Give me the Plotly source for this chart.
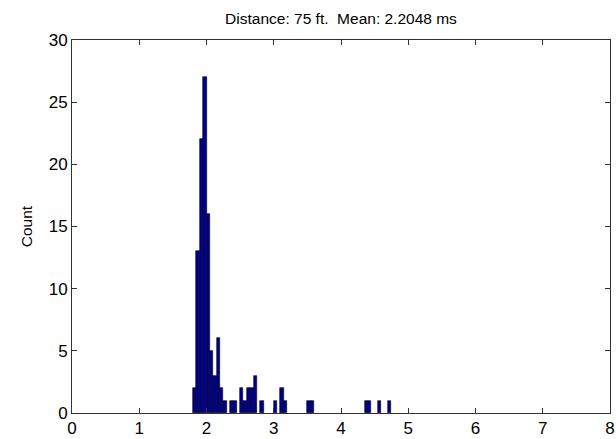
import plotly.graph_objects as go

# Histogram bins (left edges, width 0.05 ms) and counts
bin_width = 0.05
bin_left = [1.80, 1.85, 1.90, 1.95, 2.00, 2.05, 2.10, 2.15, 2.20, 2.25,
            2.35, 2.40, 2.50, 2.55, 2.60, 2.65, 2.70, 2.80, 3.00, 3.10,
            3.15, 3.50, 3.55, 4.35, 4.40, 4.55, 4.70]
counts = [2, 13, 22, 27, 16, 5, 3, 6, 2, 1,
          1, 1, 2, 1, 2, 2, 3, 1, 1, 2,
          1, 1, 1, 1, 1, 1, 1]

x_ticks = [0, 1, 2, 3, 4, 5, 6, 7, 8]
y_ticks = [0, 5, 10, 15, 20, 25, 30]

centers = [b + bin_width / 2 for b in bin_left]

fig = go.Figure()
fig.add_trace(go.Bar(
    x=centers, y=counts, width=bin_width,
    marker=dict(color="#000090", line=dict(color="black", width=0.6)),
))

font = "Liberation Sans, Arial, Helvetica, sans-serif"
fig.update_layout(
    width=616, height=439,
    margin=dict(l=72, r=1, t=40, b=26),
    paper_bgcolor="white", plot_bgcolor="white",
    showlegend=False, bargap=0,
    title=dict(text="Distance: 75 ft.  Mean: 2.2048 ms", x=0.5, xanchor="center",
               xref="paper", y=0.958, yanchor="middle",
               font=dict(family=font, size=15.5, color="#000")),
    font=dict(family=font, color="#000"),
)
fig.update_xaxes(
    range=[0, 8], tickvals=x_ticks, ticks="inside", ticklen=5, tickcolor="#333",
    showline=True, linecolor="#333", linewidth=1, mirror="ticks",
    showgrid=False, zeroline=False, tickfont=dict(size=17),
    ticklabeloverflow="allow",
)
fig.update_yaxes(
    range=[0, 30], tickvals=y_ticks, ticks="inside", ticklen=5, tickcolor="#333",
    showline=True, linecolor="#333", linewidth=1, mirror="ticks",
    showgrid=False, zeroline=False, tickfont=dict(size=17),
    title=dict(text="Count", font=dict(size=15.5), standoff=12),
)

fig.write_html("out.html")
